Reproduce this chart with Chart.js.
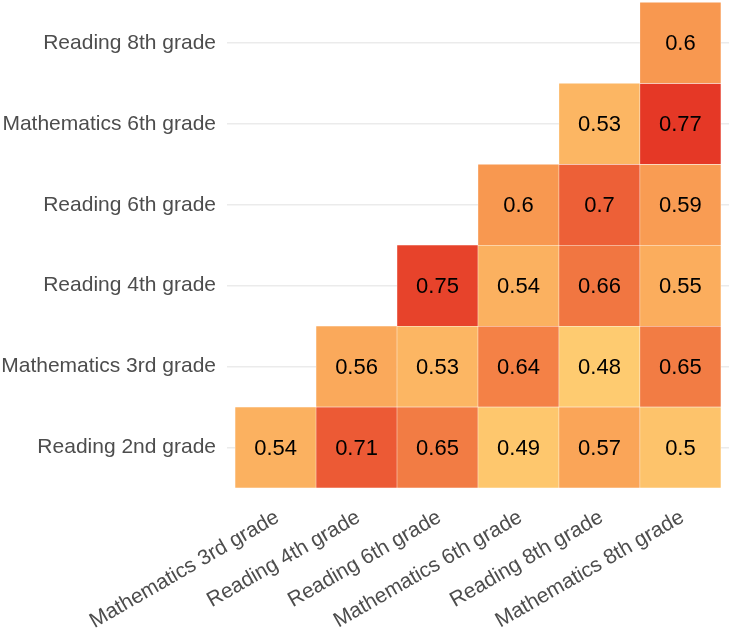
<!DOCTYPE html>
<html>
<head>
<meta charset="utf-8">
<script src="https://cdn.jsdelivr.net/npm/chart.js@4"></script>
<style>
  html, body { margin: 0; padding: 0; background: #fff; }
  #wrap { width: 731px; height: 630px; overflow: hidden; }
</style>
</head>
<body>
<div id="wrap"><canvas id="heat" width="731" height="630"></canvas></div>
<script>
const colLabels = [
    'Mathematics 3rd grade',
    'Reading 4th grade',
    'Reading 6th grade',
    'Mathematics 6th grade',
    'Reading 8th grade',
    'Mathematics 8th grade'
];
// bottom to top
const rowLabels = [
    'Reading 2nd grade',
    'Mathematics 3rd grade',
    'Reading 4th grade',
    'Reading 6th grade',
    'Mathematics 6th grade',
    'Reading 8th grade'
];
// one row per rowLabels entry, null = empty cell
const readingG2 = [0.54, 0.71, 0.65, 0.49, 0.57, 0.5];
const mathG3 = [null, 0.56, 0.53, 0.64, 0.48, 0.65];
const readingG4 = [null, null, 0.75, 0.54, 0.66, 0.55];
const readingG6 = [null, null, null, 0.6, 0.7, 0.59];
const mathG6 = [null, null, null, null, 0.53, 0.77];
const readingG8 = [null, null, null, null, null, 0.6];

const rows = [readingG2, mathG3, readingG4, readingG6, mathG6, readingG8];

// colour ramp (value -> rgb)
const rampStops = [
    [0.48, [254, 203, 112]],
    [0.60, [248, 152, 80]],
    [0.77, [229, 56, 38]]
];

function colorFor(v) {
    if (v <= rampStops[0][0]) return 'rgb(' + rampStops[0][1].join(',') + ')';
    for (let i = 1; i < rampStops.length; i++) {
        const [v1, c1] = rampStops[i];
        const [v0, c0] = rampStops[i - 1];
        if (v <= v1) {
            const t = (v - v0) / (v1 - v0);
            const c = c0.map((a, k) => Math.round(a + (c1[k] - a) * t));
            return 'rgb(' + c.join(',') + ')';
        }
    }
    return 'rgb(' + rampStops[rampStops.length - 1][1].join(',') + ')';
}

const cells = [];
rows.forEach((row, r) => {
    row.forEach((v, c) => {
        if (v === null) return;
        cells.push({ x: c, y: [r - 0.5, r + 0.5], v: v });
    });
});

const cellText = {
    id: 'cellText',
    afterDatasetsDraw(chart) {
        const ctx = chart.ctx;
        const meta = chart.getDatasetMeta(0);
        ctx.save();
        ctx.font = '22px "Liberation Sans", Arial, sans-serif';
        ctx.fillStyle = '#000';
        ctx.textAlign = 'center';
        ctx.textBaseline = 'middle';
        meta.data.forEach((bar, i) => {
            const p = bar.getCenterPoint();
            ctx.fillText(String(cells[i].v), p.x, p.y + 1);
        });
        ctx.restore();
    }
};

const axisFont = { family: '"Liberation Sans", Arial, sans-serif', size: 21 };

new Chart(document.getElementById('heat').getContext('2d'), {
    type: 'bar',
    data: {
        datasets: [{
            data: cells,
            backgroundColor: (ctx) => ctx.raw ? colorFor(ctx.raw.v) : '#fff',
            borderColor: '#ffffff',
            borderWidth: 0.5,
            borderSkipped: false,
            barPercentage: 1,
            categoryPercentage: 1,
            clip: false
        }]
    },
    plugins: [cellText],
    options: {
        responsive: false,
        animation: false,
        events: [],
        layout: { padding: { left: 0, right: 2, top: 0, bottom: 0 } },
        plugins: {
            legend: { display: false },
            tooltip: { enabled: false }
        },
        scales: {
            x: {
                type: 'linear',
                offset: false,
                min: -0.6,
                max: 5.6,
                afterBuildTicks: (scale) => {
                    scale.ticks = colLabels.map((_, i) => ({ value: i }));
                },
                afterFit: (scale) => {
                    scale.paddingLeft = 0;
                    scale.paddingRight = 0;
                    scale.height = 134;
                },
                grid: { display: false, drawTicks: false },
                border: { display: false },
                ticks: {
                    autoSkip: false,
                    minRotation: 30,
                    maxRotation: 30,
                    padding: 9,
                    labelOffset: 2,
                    color: '#4d4d4d',
                    font: axisFont,
                    callback: (v) => colLabels[v]
                }
            },
            y: {
                type: 'linear',
                min: -0.6,
                max: 5.53,
                afterBuildTicks: (scale) => {
                    scale.ticks = rowLabels.map((_, i) => ({ value: i }));
                },
                afterFit: (scale) => {
                    scale.paddingTop = 0;
                    scale.paddingBottom = 0;
                    scale.width = 227;
                },
                grid: { color: '#ebebeb', lineWidth: 1.5, drawTicks: false },
                border: { display: false },
                ticks: {
                    autoSkip: false,
                    padding: 11,
                    color: '#4d4d4d',
                    font: axisFont,
                    callback: (v) => rowLabels[v]
                }
            }
        }
    }
});
</script>
</body>
</html>
